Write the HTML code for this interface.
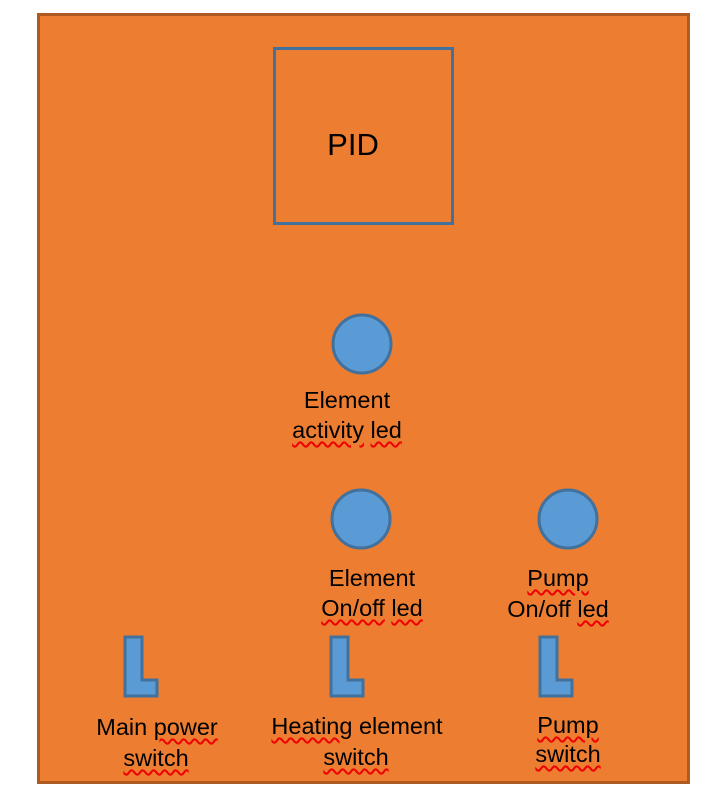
<!DOCTYPE html>
<html><head><meta charset="utf-8"><style>
html,body{margin:0;padding:0;background:#fff;width:726px;height:800px;overflow:hidden;position:relative;font-family:"Liberation Sans",sans-serif;}
.t{position:absolute;font-size:23.5px;color:#000;white-space:nowrap;transform:translateX(-50%);line-height:26px;}
.w{text-decoration:underline wavy #e00;text-decoration-thickness:1.5px;text-underline-offset:3px;}
</style></head><body>
<svg width="726" height="800" style="position:absolute;left:0;top:0">
<rect x="38.5" y="14.5" width="650" height="768" fill="#ed7d31" stroke="#ae5a21" stroke-width="3"/>
<rect x="274.5" y="48.5" width="178" height="175" fill="none" stroke="#41719c" stroke-width="3"/>
<circle cx="362" cy="344" r="29" fill="#5b9bd5" stroke="#41719c" stroke-width="3"/>
<circle cx="361" cy="519" r="29" fill="#5b9bd5" stroke="#41719c" stroke-width="3"/>
<circle cx="568" cy="519" r="29" fill="#5b9bd5" stroke="#41719c" stroke-width="3"/>
<g fill="#5b9bd5" stroke="#41719c" stroke-width="3">
<path d="M125,637 H142 V680 H157 V696 H125 Z"/>
<path d="M331,637 H348 V680 H363 V696 H331 Z"/>
<path d="M540,637 H557 V680 H572 V696 H540 Z"/>
</g>
</svg>
<div class="t" style="left:353px;top:127px;font-size:31px;line-height:36px">PID</div>
<div class="t" style="left:347px;top:387px">Element</div>
<div class="t" style="left:347px;top:417px"><span class="w">activity</span> <span class="w">led</span></div>
<div class="t" style="left:372px;top:565px">Element</div>
<div class="t" style="left:372px;top:595px"><span class="w">On/off</span> <span class="w">led</span></div>
<div class="t" style="left:558px;top:565px"><span class="w">Pump</span></div>
<div class="t" style="left:558px;top:596px">On/off <span class="w">led</span></div>
<div class="t" style="left:157px;top:714px">Main <span class="w">power</span></div>
<div class="t" style="left:156px;top:745px"><span class="w">switch</span></div>
<div class="t" style="left:357px;top:713px"><span class="w">Heating</span> element</div>
<div class="t" style="left:356px;top:744px"><span class="w">switch</span></div>
<div class="t" style="left:568px;top:712px"><span class="w">Pump</span></div>
<div class="t" style="left:568px;top:741px"><span class="w">switch</span></div>
</body></html>
